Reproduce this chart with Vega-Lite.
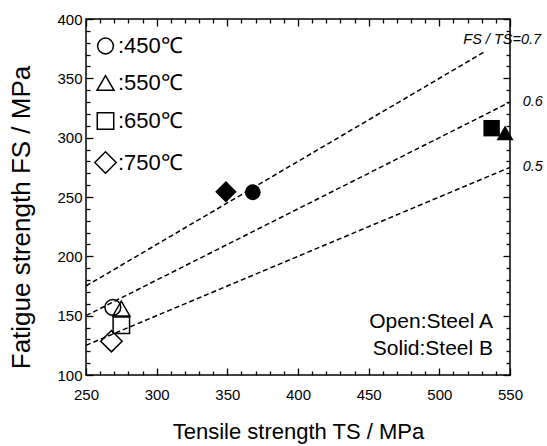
{
  "$schema": "https://vega.github.io/schema/vega-lite/v6.json",
  "width": 424,
  "height": 356,
  "autosize": {"type": "none"},
  "padding": {"left": 86, "top": 19, "right": 37, "bottom": 71},
  "background": "white",
  "config": {
    "view": {"stroke": "black", "strokeWidth": 1.5},
    "font": "Liberation Sans",
    "axis": {"labelFont": "Liberation Sans", "titleFont": "Liberation Sans", "labelColor": "black", "titleColor": "black", "titleFontWeight": "normal"}
  },
  "datasets": {
    "points": [
      {"steel": "Steel A", "temp": "450℃", "ts": 269, "fs": 157},
      {"steel": "Steel A", "temp": "550℃", "ts": 275, "fs": 156},
      {"steel": "Steel A", "temp": "650℃", "ts": 275, "fs": 142},
      {"steel": "Steel A", "temp": "750℃", "ts": 268, "fs": 128.5},
      {"steel": "Steel B", "temp": "750℃", "ts": 349, "fs": 254.5},
      {"steel": "Steel B", "temp": "450℃", "ts": 368, "fs": 254},
      {"steel": "Steel B", "temp": "650℃", "ts": 537, "fs": 308},
      {"steel": "Steel B", "temp": "550℃", "ts": 546.5, "fs": 304}
    ],
    "lines": [
      {"ratio": "0.7", "ts": 250, "fs": 175},
      {"ratio": "0.7", "ts": 533, "fs": 373.1},
      {"ratio": "0.6", "ts": 250, "fs": 150},
      {"ratio": "0.6", "ts": 550, "fs": 330},
      {"ratio": "0.5", "ts": 250, "fs": 125},
      {"ratio": "0.5", "ts": 550, "fs": 275}
    ],
    "notes": [
      {"note": "Open:Steel A", "line": 1},
      {"note": "Solid:Steel B", "line": 2}
    ],
    "one": [{"k": 1}]
  },
  "resolve": {"axis": {"x": "independent", "y": "independent"}, "legend": {"shape": "independent", "size": "independent"}},
  "layer": [
    {
      "data": {"name": "lines"},
      "mark": {"type": "line", "color": "black", "strokeWidth": 1.5, "strokeDash": [5, 3]},
      "encoding": {
        "x": {"field": "ts", "type": "quantitative", "scale": {"domain": [250, 550], "nice": false, "zero": false},
          "axis": {"orient": "bottom", "offset": -7, "domain": false, "grid": false, "ticks": true, "tickSize": 7, "tickColor": "black", "tickWidth": 1.3, "title": "Tensile strength  TS / MPa", "titleFontSize": 22, "titlePadding": 19, "labelFontSize": 15, "labelPadding": 12,
            "values": [250, 300, 350, 400, 450, 500, 550], "labelFlush": false, "labelOverlap": false}},
        "y": {"field": "fs", "type": "quantitative", "scale": {"domain": [100, 400], "nice": false, "zero": false},
          "axis": {"orient": "left", "offset": -7, "domain": false, "grid": false, "ticks": true, "tickSize": 7, "tickColor": "black", "tickWidth": 1.3, "title": "Fatigue strength FS / MPa", "titleFontSize": 26, "titlePadding": 22, "titleY": 198, "labelFontSize": 15, "labelPadding": 4,
            "values": [100, 150, 200, 250, 300, 350, 400], "labelFlush": false, "labelOverlap": false}},
        "detail": {"field": "ratio"}
      }
    },
    {
      "data": {"name": "points"},
      "transform": [{"filter": "datum.steel === 'Steel A'"}],
      "mark": {"type": "point", "filled": false, "color": "black", "strokeWidth": 1.5, "opacity": 1},
      "encoding": {
        "x": {"field": "ts", "type": "quantitative",
          "axis": {"orient": "top", "offset": -7, "domain": false, "grid": false, "ticks": true, "tickSize": 7, "tickColor": "black", "tickWidth": 1.3, "title": null, "labels": false, "values": [250, 300, 350, 400, 450, 500, 550]}},
        "y": {"field": "fs", "type": "quantitative",
          "axis": {"orient": "right", "offset": -7, "domain": false, "grid": false, "ticks": true, "tickSize": 7, "tickColor": "black", "tickWidth": 1.3, "title": null, "labels": false, "values": [100, 150, 200, 250, 300, 350, 400]}},
        "shape": {"field": "temp", "type": "nominal",
          "scale": {"domain": ["450℃", "550℃", "650℃", "750℃"], "range": ["circle", "triangle-up", "square", "diamond"]},
          "legend": {"orient": "none", "legendX": 4, "legendY": 12, "title": null, "labelExpr": "':' + datum.label", "labelFontSize": 22, "labelFont": "Liberation Sans", "labelColor": "black", "symbolStrokeWidth": 1.5, "symbolStrokeColor": "black", "symbolFillColor": "transparent", "rowPadding": 15, "labelOffset": 1, "padding": 4}},
        "size": {"field": "temp", "type": "nominal", "scale": {"type": "ordinal", "domain": ["450℃", "550℃", "650℃", "750℃"], "range": [250, 290, 270, 460]},
          "legend": {"orient": "none", "legendX": 4, "legendY": 12, "title": null, "labelExpr": "':' + datum.label", "labelFontSize": 22, "labelFont": "Liberation Sans", "labelColor": "black", "symbolStrokeWidth": 1.5, "symbolStrokeColor": "black", "symbolFillColor": "transparent", "rowPadding": 15, "labelOffset": 1, "padding": 4}}
      }
    },
    {
      "data": {"name": "points"},
      "transform": [{"filter": "datum.steel === 'Steel B'"}],
      "mark": {"type": "point", "filled": true, "color": "black", "opacity": 1},
      "encoding": {
        "x": {"field": "ts", "type": "quantitative",
          "axis": {"orient": "bottom", "offset": -4, "domain": false, "grid": false, "ticks": true, "tickSize": 4, "tickColor": "black", "tickWidth": 1.3, "title": null, "labels": false, "values": [260,270,280,290,310,320,330,340,360,370,380,390,410,420,430,440,460,470,480,490,510,520,530,540]}},
        "y": {"field": "fs", "type": "quantitative",
          "axis": {"orient": "left", "offset": -4, "domain": false, "grid": false, "ticks": true, "tickSize": 4, "tickColor": "black", "tickWidth": 1.3, "title": null, "labels": false, "values": [110,120,130,140,160,170,180,190,210,220,230,240,260,270,280,290,310,320,330,340,360,370,380,390]}},
        "shape": {"field": "temp", "type": "nominal", "scale": {"domain": ["450℃", "550℃", "650℃", "750℃"], "range": ["circle", "triangle-up", "square", "diamond"]}, "legend": null},
        "size": {"field": "temp", "type": "nominal", "scale": {"type": "ordinal", "domain": ["450℃", "550℃", "650℃", "750℃"], "range": [250, 290, 270, 460]}, "legend": null}
      }
    },
    {
      "data": {"name": "notes"},
      "transform": [{"filter": "datum.line === 1"}],
      "mark": {"type": "text", "align": "right", "baseline": "alphabetic", "fontSize": 21, "font": "Liberation Sans", "color": "black"},
      "encoding": {
        "x": {"datum": 538, "type": "quantitative",
          "axis": {"orient": "top", "offset": -4, "domain": false, "grid": false, "ticks": true, "tickSize": 4, "tickColor": "black", "tickWidth": 1.3, "title": null, "labels": false, "values": [260,270,280,290,310,320,330,340,360,370,380,390,410,420,430,440,460,470,480,490,510,520,530,540]}},
        "y": {"datum": 140, "type": "quantitative",
          "axis": {"orient": "right", "offset": -4, "domain": false, "grid": false, "ticks": true, "tickSize": 4, "tickColor": "black", "tickWidth": 1.3, "title": null, "labels": false, "values": [110,120,130,140,160,170,180,190,210,220,230,240,260,270,280,290,310,320,330,340,360,370,380,390]}},
        "text": {"field": "note"}
      }
    },
    {
      "data": {"name": "notes"},
      "transform": [{"filter": "datum.line === 2"}],
      "mark": {"type": "text", "align": "right", "baseline": "alphabetic", "fontSize": 21, "font": "Liberation Sans", "color": "black"},
      "encoding": {
        "x": {"datum": 538, "type": "quantitative", "axis": null},
        "y": {"datum": 117, "type": "quantitative", "axis": null},
        "text": {"field": "note"}
      }
    },
    {
      "data": {"name": "one"},
      "mark": {"type": "text", "align": "right", "baseline": "middle", "fontSize": 14.5, "fontStyle": "italic", "font": "Liberation Sans", "color": "black"},
      "encoding": {
        "x": {"datum": 572, "type": "quantitative", "axis": null},
        "y": {"datum": 382, "type": "quantitative", "axis": null},
        "text": {"value": "FS / TS=0.7"}
      }
    },
    {
      "data": {"name": "one"},
      "mark": {"type": "text", "align": "left", "baseline": "middle", "fontSize": 14.5, "fontStyle": "italic", "font": "Liberation Sans", "color": "black"},
      "encoding": {
        "x": {"datum": 559, "type": "quantitative", "axis": null},
        "y": {"datum": 330, "type": "quantitative", "axis": null},
        "text": {"value": "0.6"}
      }
    },
    {
      "data": {"name": "one"},
      "mark": {"type": "text", "align": "left", "baseline": "middle", "fontSize": 14.5, "fontStyle": "italic", "font": "Liberation Sans", "color": "black"},
      "encoding": {
        "x": {"datum": 559, "type": "quantitative", "axis": null},
        "y": {"datum": 275.5, "type": "quantitative", "axis": null},
        "text": {"value": "0.5"}
      }
    }
  ]
}
